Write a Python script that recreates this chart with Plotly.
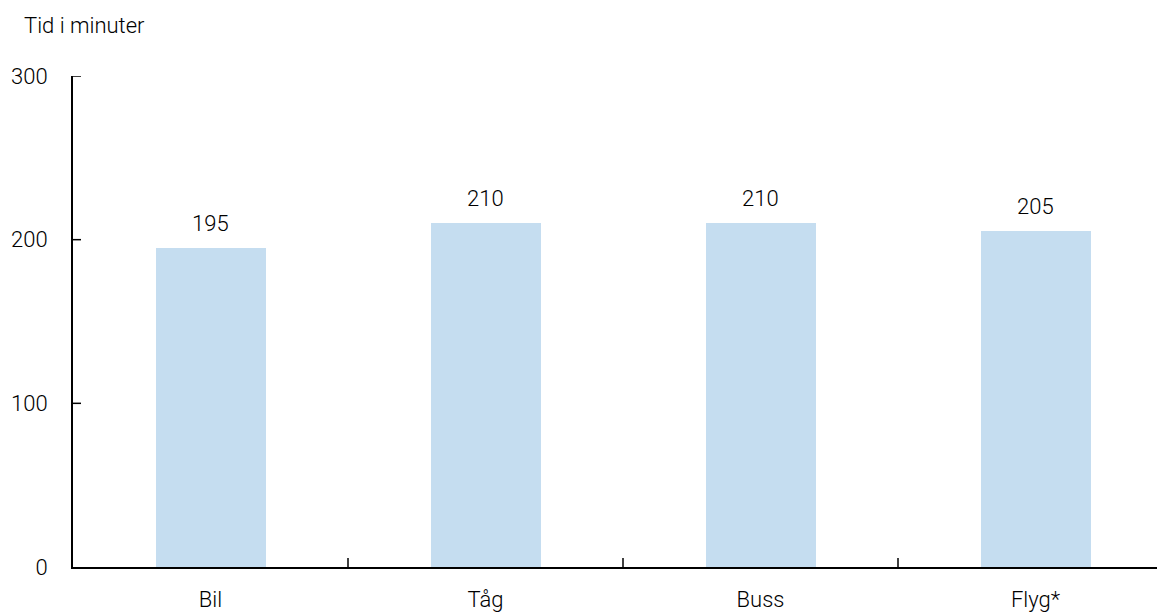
import plotly.graph_objects as go

categories = ["Bil", "Tåg", "Buss", "Flyg*"]
values = [195, 210, 210, 205]
y_ticks = [0, 100, 200, 300]

font_family = "Roboto, DejaVu Sans, sans-serif"
FS = 22
FW = 300

# page has an 8px body margin in the screenshot; compensate
W, H = 1165, 614
L, R, T, B = 65, 8, 68, 55
plot_w = W - L - R
plot_h = H - T - B
band = 275

fig = go.Figure()
fig.add_trace(go.Bar(
    x=list(range(len(categories))),
    y=values,
    width=0.4,
    marker=dict(color="#c5ddf0", line=dict(width=0)),
    hoverinfo="x+y",
))

for i, v in enumerate(values):
    fig.add_annotation(x=i, y=v, xref="x", yref="y", text=str(v),
                       showarrow=False, yanchor="bottom", yshift=10,
                       font=dict(size=FS, color="#000000", weight=FW))

fig.update_layout(
    width=W, height=H,
    margin=dict(l=L, r=R, t=T, b=B, autoexpand=False),
    paper_bgcolor="white", plot_bgcolor="white",
    font=dict(family=font_family, size=FS, color="#000000", weight=FW),
    showlegend=False,
    bargap=0,
    xaxis=dict(
        range=[-0.5, -0.5 + plot_w / band],
        tickmode="array",
        tickvals=list(range(len(categories))),
        ticktext=categories,
        showgrid=False, zeroline=False,
        showline=True, linecolor="#000000", linewidth=2,
        ticks="", ticklabelstandoff=12,
        tickfont=dict(size=FS, weight=FW),
        automargin=False,
    ),
    yaxis=dict(
        range=[0, 300],
        tickmode="array", tickvals=y_ticks,
        showgrid=False, zeroline=False,
        showline=True, linecolor="#000000", linewidth=2,
        ticks="", ticklabelstandoff=19,
        tickfont=dict(size=FS, weight=FW),
        automargin=False,
    ),
)
fig.add_annotation(text="Tid i minuter", xref="paper", yref="paper",
                   x=(14 - L) / plot_w, y=1 + (T - 17) / plot_h,
                   xanchor="left", yanchor="middle", showarrow=False,
                   font=dict(size=FS, weight=FW))
# category boundary ticks on x-axis (pointing up)
for b in [0.5, 1.5, 2.5]:
    fig.add_shape(type="line", xref="x", yref="paper", x0=b, x1=b,
                  y0=0, y1=9 / plot_h,
                  line=dict(color="#000000", width=1.5))
# inside ticks on y-axis (pointing right)
for t in y_ticks[1:]:
    fig.add_shape(type="line", xref="paper", yref="y", x0=0, x1=8 / plot_w,
                  y0=t, y1=t, line=dict(color="#000000", width=1.5))

fig.write_html("out.html")
